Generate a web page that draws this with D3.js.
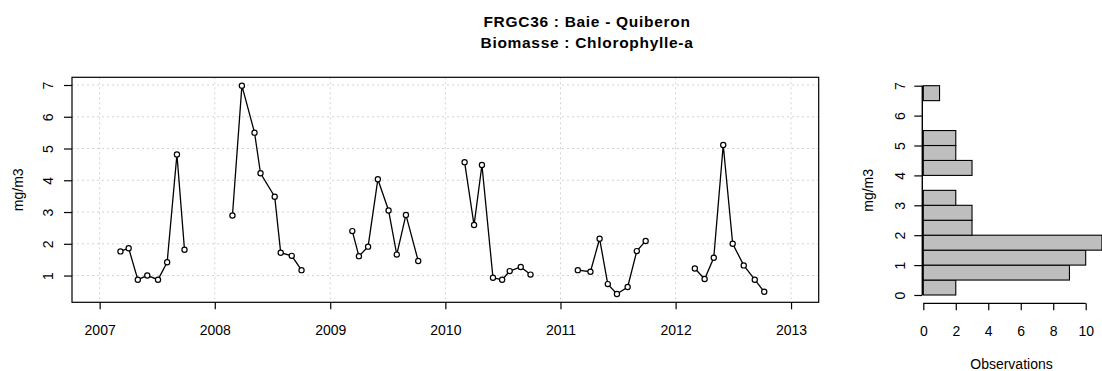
<!DOCTYPE html>
<html><head><meta charset="utf-8">
<script src="https://cdn.jsdelivr.net/npm/d3@7"></script>
<style>
body{margin:0;background:#fff;}
text{font-family:"Liberation Sans",Arial,sans-serif;fill:#000;}
</style></head>
<body><svg id="c" width="1102" height="371"></svg>
<script>
const titleLines = ["FRGC36 : Baie - Quiberon", "Biomasse : Chlorophylle-a"];
const yLabel = "mg/m3";
const histXLabel = "Observations";

const dates = [
 "2007-03-08","2007-04-03","2007-05-02","2007-06-01","2007-07-05","2007-08-03","2007-09-03","2007-09-27",
 "2008-02-26","2008-03-27","2008-05-06","2008-05-25","2008-07-09","2008-07-28","2008-09-01","2008-10-02",
 "2009-03-12","2009-04-02","2009-05-01","2009-06-01","2009-07-05","2009-07-31","2009-08-29","2009-10-07",
 "2010-03-03","2010-04-02","2010-04-27","2010-06-01","2010-06-30","2010-07-24","2010-08-28","2010-09-28",
 "2011-02-25","2011-04-06","2011-05-05","2011-05-31","2011-06-29","2011-08-02","2011-08-31","2011-09-28",
 "2012-03-02","2012-04-02","2012-05-01","2012-05-31","2012-06-30","2012-08-04","2012-09-08","2012-10-08"
];
const values = [
 1.76,1.86,0.87,1.00,0.87,1.42,4.81,1.81,
 2.89,6.98,5.50,4.22,3.48,1.72,1.62,1.17,
 2.40,1.61,1.91,4.03,3.05,1.66,2.91,1.46,
 4.57,2.59,4.48,0.93,0.87,1.14,1.27,1.03,
 1.17,1.12,2.16,0.73,0.42,0.64,1.77,2.09,
 1.22,0.89,1.56,5.11,2.00,1.32,0.87,0.49
];
const xTickYears = [2007,2008,2009,2010,2011,2012,2013];
const yTicks = [1,2,3,4,5,6,7];

const histEdges = [0,0.5,1,1.5,2,2.5,3,3.5,4,4.5,5,5.5,6,6.5,7];
const histCounts = [2,9,10,11,3,3,2,0,3,2,2,0,0,1];
const histXTicks = [0,2,4,6,8,10];
const histYTicks = [0,1,2,3,4,5,6,7];

const svg = d3.select("#c");
const parse = d3.timeParse("%Y-%m-%d");
const pts = dates.map((d,i)=>({date:parse(d), v:values[i]}));

// main panel
const L=72, R=818.7, T=77.3, B=302.3;
const x0 = new Date(2007,0,1), x1 = new Date(2013,0,1);
const span = x1 - x0;
const x = d3.scaleTime().domain([new Date(+x0 - 0.04*span), new Date(+x1 + 0.04*span)]).range([L,R]);
const [vmin,vmax] = d3.extent(values);
const vs = vmax - vmin;
const y = d3.scaleLinear().domain([vmin-0.04*vs, vmax+0.04*vs]).range([B,T]);

const fs = 14;
// grid
const g = svg.append("g");
g.selectAll(".gx").data(xTickYears).enter().append("line")
 .attr("x1",d=>x(new Date(d,0,1))).attr("x2",d=>x(new Date(d,0,1)))
 .attr("y1",T).attr("y2",B).attr("stroke","#d3d3d3").attr("stroke-dasharray","2,3");
g.selectAll(".gy").data(yTicks).enter().append("line")
 .attr("x1",L).attr("x2",R).attr("y1",d=>y(d)).attr("y2",d=>y(d))
 .attr("stroke","#d3d3d3").attr("stroke-dasharray","2,3");

// lines per year
const line = d3.line().x(d=>x(d.date)).y(d=>y(d.v));
const groups = d3.groups(pts, d=>d.date.getFullYear());
svg.selectAll(".seg").data(groups).enter().append("path")
 .attr("d",d=>line(d[1])).attr("fill","none").attr("stroke","#000").attr("stroke-width",1.3);
svg.selectAll(".pt").data(pts).enter().append("circle")
 .attr("cx",d=>x(d.date)).attr("cy",d=>y(d.v)).attr("r",2.6)
 .attr("fill","#fff").attr("stroke","#000").attr("stroke-width",1.2);

// box
svg.append("rect").attr("x",L).attr("y",T).attr("width",R-L).attr("height",B-T)
 .attr("fill","none").attr("stroke","#000").attr("stroke-width",1.2);

// x axis
const xa = svg.append("g").attr("transform",`translate(0,${B})`)
 .call(d3.axisBottom(x).tickValues(xTickYears.map(d=>new Date(d,0,1))).tickFormat(d3.timeFormat("%Y")).tickSize(7).tickPadding(16));
xa.select(".domain").remove();
xa.selectAll("text").style("font-size",fs+"px").style("font-family","Liberation Sans, Arial");
xa.selectAll("line").attr("stroke-width",1.2);

// y axis
const ya = svg.append("g").attr("transform",`translate(${L},0)`)
 .call(d3.axisLeft(y).tickValues(yTicks).tickFormat(d3.format("d")).tickSize(8).tickPadding(0));
ya.select(".domain").remove();
ya.selectAll("line").attr("stroke-width",1.2);
ya.selectAll("text").attr("x",null).attr("dy",null).style("text-anchor","middle")
 .attr("transform","translate(-24,0) rotate(-90)").attr("dominant-baseline","central")
 .style("font-size",fs+"px").style("font-family","Liberation Sans, Arial");

svg.append("text").attr("transform",`translate(18,${(T+B)/2}) rotate(-90)`)
 .attr("text-anchor","middle").attr("dominant-baseline","central").style("font-size",fs+"px").text(yLabel);

// title
svg.selectAll(".title").data(titleLines).enter().append("text")
 .attr("x",587).attr("y",(d,i)=>21+i*21).attr("text-anchor","middle").attr("dominant-baseline","central")
 .style("font-size","15.5px").style("font-weight","bold").style("letter-spacing","0.7px").text(d=>d);

// histogram
const hx = d3.scaleLinear().domain([0,10]).range([923.3,1085.7]);
const hy = d3.scaleLinear().domain([0,7]).range([295,85.7]);
const bins = histCounts.map((c,i)=>({lo:histEdges[i], hi:histEdges[i+1], c}));
svg.selectAll(".bar").data(bins.filter(b=>b.c>0)).enter().append("rect")
 .attr("x",hx(0)).attr("y",d=>hy(d.hi)).attr("width",d=>hx(d.c)-hx(0)).attr("height",d=>hy(d.lo)-hy(d.hi))
 .attr("fill","#bebebe").attr("stroke","#000").attr("stroke-width",1.1);

const hxa = svg.append("g").attr("transform","translate(0,303.3)")
 .call(d3.axisBottom(hx).tickValues(histXTicks).tickFormat(d3.format("d")).tickSizeOuter(0).tickSize(7).tickPadding(16));
hxa.select(".domain").attr("stroke-width",1.2).attr("d",`M${hx(0)},0H${hx(10)}`);
hxa.selectAll("line").attr("stroke-width",1.2);
hxa.selectAll("text").style("font-size",fs+"px").style("font-family","Liberation Sans, Arial");

const hya = svg.append("g").attr("transform","translate(922.3,0)")
 .call(d3.axisLeft(hy).tickValues(histYTicks).tickFormat(d3.format("d")).tickSizeOuter(0).tickSize(8).tickPadding(0));
hya.select(".domain").attr("stroke-width",1.4).attr("d",`M0,${hy(0)}V${hy(7)}`);
hya.selectAll("line").attr("stroke-width",1.2);
hya.selectAll("text").attr("x",null).attr("dy",null).style("text-anchor","middle")
 .attr("transform","translate(-22,0) rotate(-90)").attr("dominant-baseline","central")
 .style("font-size",fs+"px").style("font-family","Liberation Sans, Arial");

svg.append("text").attr("transform",`translate(868,${(hy(0)+hy(7))/2}) rotate(-90)`)
 .attr("text-anchor","middle").attr("dominant-baseline","central").style("font-size",fs+"px").text(yLabel);
svg.append("text").attr("x",1011.5).attr("y",364).attr("text-anchor","middle").attr("dominant-baseline","central")
 .style("font-size",fs+"px").text(histXLabel);
</script></body></html>
